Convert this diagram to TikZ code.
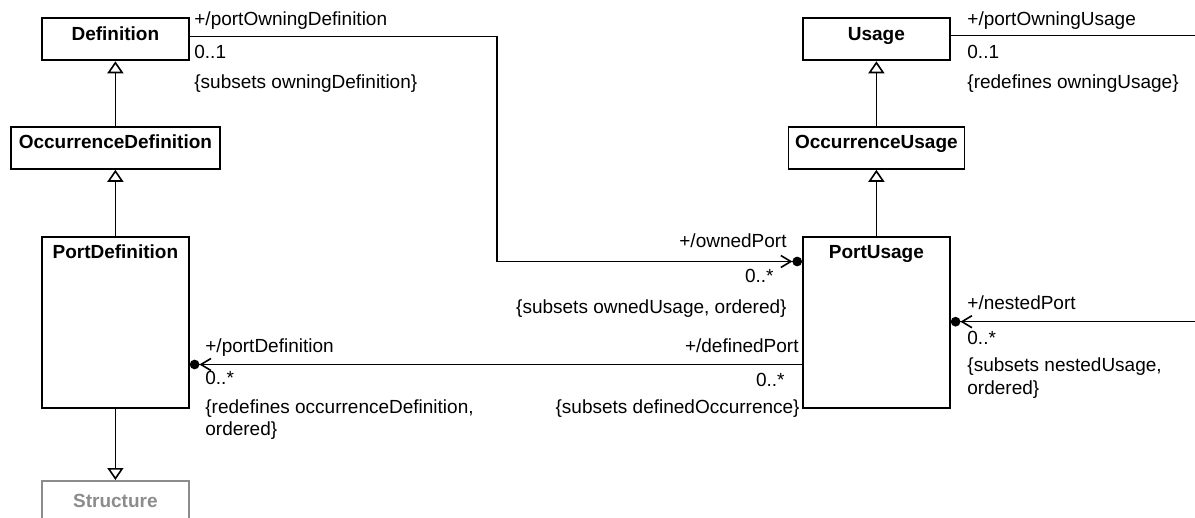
\documentclass[tikz,border=0pt]{standalone}
\usepackage{fontspec}
\setmainfont{Liberation Sans}
\usetikzlibrary{arrows.meta,positioning,calc}
\definecolor{structgray}{RGB}{140,140,140}

\begin{document}
\begin{tikzpicture}[x=0.5pt,y=-0.5pt,
    font=\fontsize{9.5}{11.3}\selectfont,
    cls/.style={draw, line width=0.9pt, font=\fontsize{9.5}{11.3}\selectfont\bfseries,
      minimum height=21pt, inner sep=0pt, text height=7pt, text depth=6pt, anchor=north west},
    clsname/.style={inner sep=0pt, anchor=base, font=\fontsize{9.5}{11.3}\selectfont\bfseries},
    role/.style={inner sep=0pt, align=left},
    gen/.style={line width=0.8pt, -{Triangle[open, length=6pt, width=8pt]}},
    nav/.style={line width=0.8pt, -{Straight Barb[length=5pt, width=6pt] Circle[length=4.8pt]}},
    assoc/.style={line width=0.8pt}]

  \useasboundingbox (0,0) rectangle (1195,518);
  \clip (0,0) rectangle (1195,518);

  % definition side
  \node[cls, minimum width=73.5pt] (def) at (41,17.5) {Definition};
  \node[cls, minimum width=104.5pt] (occdef) at (10,126) {OccurrenceDefinition};
  \node[cls, minimum width=73.5pt, minimum height=85.5pt] (pdef) at (41,236) {};
  \node[clsname] (pdefname) at ($(pdef.north)+(0,23)$) {PortDefinition};
  \node[cls, minimum width=73.5pt, text depth=1pt, draw=structgray, text=structgray] (struct) at (41,480) {Structure};

  % usage side
  \node[cls, minimum width=73.5pt] (usage) at (802,17.5) {Usage};
  \node[cls, minimum width=88pt] (occusage) at (787.5,126) {OccurrenceUsage};
  \node[cls, minimum width=73.5pt, minimum height=85.5pt] (pu) at (802,236) {};
  \node[clsname] (puname) at ($(pu.north)+(0,23)$) {PortUsage};

  % generalizations
  \draw[gen] (occdef) -- (def);
  \draw[gen] (pdef) -- (occdef);
  \draw[gen] (pdef) -- (struct);
  \draw[gen] (occusage) -- (usage);
  \draw[gen] (pu) -- (occusage);

  % associations
  \coordinate (ownbend) at (497,261.5);
  \coordinate (owningusage) at (1200,35.5);
  \coordinate (nestedin) at (1200,321.7);
  \coordinate (defrow) at (0,364.5);
  \draw[nav] ([yshift=1.5pt]def.east) -| (ownbend) -- (ownbend -| pu.west);
  \draw[assoc] (usage.east |- owningusage) -- (owningusage);
  \draw[nav] (nestedin) -- (pu.east |- nestedin);
  \draw[nav] (pu.west |- defrow) -- (pdef.east |- defrow);

  % end labels
  \node[role, anchor=base west] (owningdefrole) at (194,26) {+/portOwningDefinition};
  \node[role, anchor=base west] (owningdefmult) at (194,59) {0..1};
  \node[role, anchor=base west] (owningdefcons) at (194,89) {\{subsets owningDefinition\}};

  \node[role, anchor=base west] (owningusagerole) at (967,26) {+/portOwningUsage};
  \node[role, anchor=base west] (owningusagemult) at (967,59) {0..1};
  \node[role, anchor=base west] (owningusagecons) at (967,89) {\{redefines owningUsage\}};

  \node[role, anchor=base east] (ownedrole) at (787,248) {+/ownedPort};
  \node[role, anchor=base east] (ownedmult) at (774,283) {0..*};
  \node[role, anchor=base east] (ownedcons) at (787,314) {\{subsets ownedUsage, ordered\}};

  \node[role, anchor=base west] (nestedrole) at (967,310) {+/nestedPort};
  \node[role, anchor=base west] (nestedmult) at (967,345) {0..*};
  \node[role, anchor=base west] (nestedcons) at (967,394) {\{subsets nestedUsage,\\ordered\}};

  \node[role, anchor=base west] (pdefrole) at (205,352.7) {+/portDefinition};
  \node[role, anchor=base west] (pdefmult) at (205,385) {0..*};
  \node[role, anchor=base west] (pdefcons) at (205,436) {\{redefines occurrenceDefinition,\\ordered\}};

  \node[role, anchor=base east] (definedrole) at (799,352.7) {+/definedPort};
  \node[role, anchor=base east] (definedmult) at (785,386.7) {0..*};
  \node[role, anchor=base east] (definedcons) at (800,413.3) {\{subsets definedOccurrence\}};
\end{tikzpicture}
\end{document}
